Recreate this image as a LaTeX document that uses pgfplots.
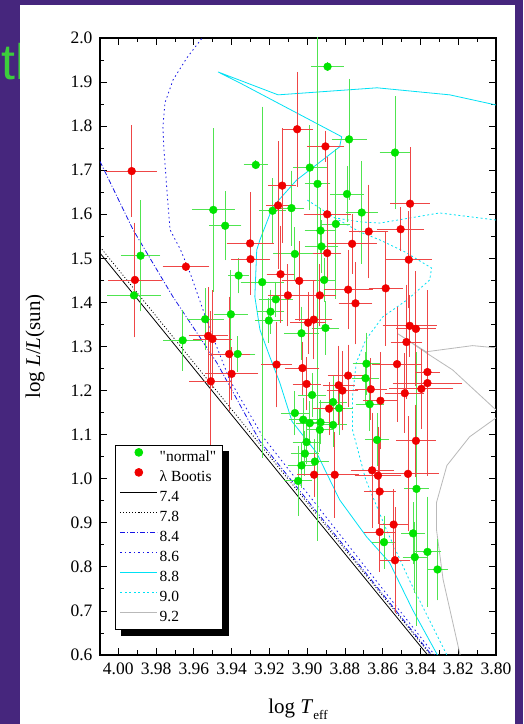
\documentclass[border=0pt]{standalone}
\usepackage{fontspec}
\setmainfont{Liberation Serif}
\newfontfamily\slidefont{Liberation Sans}
\usepackage{pgfplots}
\usepackage{pgfplotstable}
\pgfplotsset{compat=1.18}

\definecolor{slidebg}{RGB}{70,38,125}
\definecolor{slidetext}{RGB}{60,205,60}
\definecolor{ptgreen}{RGB}{0,228,0}
\definecolor{ptred}{RGB}{240,0,0}
\definecolor{ebgreen}{RGB}{80,228,80}
\definecolor{ebred}{RGB}{238,70,70}
\definecolor{isocyan}{RGB}{0,225,245}
\definecolor{isoblue}{RGB}{20,20,230}
\definecolor{isogray}{RGB}{185,185,185}

\pgfplotstableread{
x y xe ye
3.8892 1.935 0.0063 0
3.8778 1.770 0.0069 0.127
3.8535 1.740 0.0058 0.118
3.9272 1.712 0.0040 0
3.8986 1.706 0.0066 0.086
3.8945 1.669 0.0044 0.80
3.9497 1.610 0.0090 0.175
3.9434 1.574 0.0062 0.068
3.9183 1.608 0.0048 0.064
3.9083 1.614 0.0044 0.075
3.8789 1.646 0.0064 0.053
3.8711 1.604 0.0062 0.106
3.8848 1.578 0.0053 0.160
3.8929 1.563 0.0060 0.040
3.9882 1.506 0.0080 0.116
3.9917 1.416 0.0117 0
3.9363 1.461 0.0030 0.030
3.9238 1.446 0.0090 0.388
3.9404 1.373 0.0066 0.090
3.9540 1.362 0.0075 0.060
3.9659 1.314 0.0078 0.059
3.9368 1.283 0.0070 0.030
3.9065 1.510 0.0090 0.050
3.9166 1.407 0.0066 0.030
3.9194 1.379 0.0050 0.040
3.9203 1.359 0.0050 0.040
3.8924 1.527 0.0066 0.050
3.8910 1.451 0.0035 0.040
3.8903 1.342 0.0050 0.050
3.9030 1.330 0.0070 0.050
3.8974 1.190 0.0050 0.040
3.8863 1.174 0.0050 0.050
3.8831 1.160 0.0050 0.050
3.8686 1.261 0.0050 0.060
3.8691 1.228 0.0050 0.050
3.8669 1.169 0.0050 0.050
3.9065 1.149 0.0050 0.040
3.9021 1.134 0.0050 0.040
3.8986 1.126 0.0050 0.040
3.8929 1.128 0.0050 0.040
3.8863 1.122 0.0050 0.040
3.8933 1.111 0.0050 0.040
3.9003 1.083 0.0050 0.040
3.9012 1.057 0.0050 0.040
3.8959 1.039 0.0050 0.040
3.9030 1.030 0.0050 0.040
3.9048 0.995 0.0050 0.069
3.8630 1.088 0.0040 0.050
3.8421 0.977 0.0040 0.300
3.8439 0.876 0.0040 0.060
3.8593 0.856 0.0040 0.050
3.8363 0.834 0.0050 0.115
3.8430 0.822 0.0040 0.070
3.8310 0.794 0.0030 0.060
}\greendata

\pgfplotstableread{
x y xe ye
3.9929 1.698 0.0110 0.094
3.9912 1.451 0.0120 0.120
3.9642 1.481 0.0100 0
3.9524 1.324 0.0080 0.100
3.9501 1.317 0.0080 0.100
3.9413 1.283 0.0087 0.120
3.9400 1.238 0.0117 0.050
3.9510 1.221 0.0090 0.150
3.9053 1.793 0.0058 0.120
3.8903 1.754 0.0075 0.025
3.9132 1.665 0.0050 0.120
3.9154 1.620 0.0040 0.135
3.8894 1.600 0.0101 0.120
3.9302 1.534 0.0100 0.106
3.9300 1.498 0.0080 0.066
3.9141 1.464 0.0050 0.100
3.9042 1.449 0.0066 0.080
3.9102 1.416 0.0080 0.060
3.8933 1.416 0.0062 0.060
3.8894 1.512 0.0050 0.050
3.8762 1.533 0.0106 0.058
3.8674 1.561 0.0080 0.096
3.8783 1.429 0.0106 0.080
3.8744 1.398 0.0066 0.083
3.8584 1.432 0.0066 0.120
3.8995 1.354 0.0070 0.060
3.8965 1.361 0.0075 0.080
3.9025 1.251 0.0066 0.050
3.9003 1.215 0.0050 0.050
3.8783 1.234 0.0084 0.060
3.8833 1.212 0.0060 0.080
3.8813 1.200 0.0060 0.080
3.8884 1.159 0.0060 0.050
3.9162 1.259 0.0058 0.087
3.8663 1.203 0.0060 0.060
3.8612 1.177 0.0070 0.100
3.8963 1.009 0.0066 0.040
3.8854 1.009 0.0106 0.087
3.8656 1.019 0.0090 0.120
3.8625 1.007 0.0100 0.100
3.8616 0.971 0.0060 0.100
3.8616 0.879 0.0060 0.080
3.8542 0.896 0.0050 0.070
3.8535 0.815 0.0058 0.110
3.8424 1.086 0.0080 0.072
3.8466 1.011 0.0140 0.120
3.8455 1.624 0.0080 0.118
3.8505 1.566 0.0100 0.040
3.8462 1.497 0.0097 0.100
3.8457 1.347 0.0120 0.060
3.8424 1.340 0.0080 0.120
3.8474 1.310 0.0060 0.120
3.8524 1.260 0.0110 0.120
3.8363 1.242 0.0040 0.030
3.8363 1.217 0.0160 0.200
3.8395 1.204 0.0146 0.080
3.8483 1.194 0.0080 0.080
}\reddata

\begin{document}
\begin{tikzpicture}[x=1pt,y=1pt]
\useasboundingbox (0,0) rectangle (523,724);
\fill[slidebg] (0,0) rectangle (523,724);
\node[anchor=base west, inner sep=0pt, text=slidetext, font=\slidefont\fontsize{50}{50}\selectfont] at (1,644) {th};
\fill[white] (20,0) rectangle (515,719);
\begin{axis}[
  at={(100pt,69pt)}, anchor=south west,
  width=396pt, height=617pt, scale only axis,
  x dir=reverse,
  xmin=3.80, xmax=4.0097, ymin=0.6, ymax=2.0,
  xtick={3.80,3.82,3.84,3.86,3.88,3.90,3.92,3.94,3.96,3.98,4.00},
  ytick={0.6,0.7,0.8,0.9,1.0,1.1,1.2,1.3,1.4,1.5,1.6,1.7,1.8,1.9,2.0},
  minor x tick num=1, minor y tick num=1,
  tick align=inside, tick pos=both,
  major tick length=7pt, minor tick length=4.5pt,
  every tick/.style={black, line width=0.8pt},
  axis line style={black, line width=1.2pt},
  /pgf/number format/assume math mode=true,
  tick label style={font=\fontsize{17.5}{20}\selectfont},
  xticklabel style={/pgf/number format/.cd, fixed, fixed zerofill, precision=2, /tikz/.cd, yshift=-4pt},
  yticklabel style={/pgf/number format/.cd, fixed, fixed zerofill, precision=1, /tikz/.cd, xshift=-4pt},
  xlabel={log \textit{T}\raisebox{-0.28em}{\fontsize{13}{13}\selectfont eff}},
  ylabel={log \textit{L}/\textit{L}(sun)},
  label style={font=\fontsize{21}{24}\selectfont},
  xlabel style={at={(axis description cs:0.5,-0.095)}, anchor=base},
  ylabel style={at={(axis description cs:-0.164,0.5)}, anchor=center},
  legend style={name=lgd, at={(axis description cs:0.0379,0.3404)}, anchor=north west,
    draw=black, line width=0.8pt, fill=white, inner xsep=4.5pt, inner ysep=2pt,
    font=\fontsize{15.5}{18}\selectfont,
    nodes={inner xsep=2pt, inner ysep=2pt, text height=12pt, text depth=4pt}},
  legend cell align=left,
  legend image code/.code={\path[draw=none, fill=none] (0pt,0pt) -- (37pt,10pt); \draw[mark repeat=2,mark phase=2,#1] plot coordinates {(0pt,5pt) (18.5pt,5pt) (37pt,5pt)};},
]
\addlegendimage{only marks, mark=*, mark size=3.9pt, mark options={draw=ptgreen, fill=ptgreen}}
\addlegendentry{\textquotedbl normal\textquotedbl}
\addlegendimage{only marks, mark=*, mark size=3.9pt, mark options={draw=ptred, fill=ptred}}
\addlegendentry{λ Bootis}

% isochrones
\addplot[black, line width=0.8pt, mark=none] coordinates {(4.0097,1.512) (3.9039,0.955) (3.8362,0.600)};
\addlegendentry{7.4}
\addplot[black, line width=0.8pt, mark=none, dash pattern=on 1pt off 2pt] coordinates {(4.0097,1.526) (3.8346,0.600)};
\addlegendentry{7.8}
\addplot[isoblue, line width=0.8pt, mark=none, dash pattern=on 5pt off 2pt on 1pt off 2pt] coordinates {(4.0097,1.720) (3.9922,1.565) (3.9711,1.413) (3.9478,1.263) (3.9250,1.085) (3.8800,0.845) (3.8341,0.600)};
\addlegendentry{8.4}
\addplot[isoblue, line width=0.8pt, mark=none, dash pattern=on 1.5pt off 3pt] coordinates {(3.9530,2.015) (3.9556,2.000) (3.9637,1.955) (3.9710,1.905) (3.9753,1.853) (3.9764,1.798) (3.9758,1.746) (3.9740,1.639) (3.9726,1.565) (3.9670,1.519) (3.9620,1.467) (3.9514,1.338) (3.9410,1.224) (3.9234,1.095) (3.8325,0.600)};
\addlegendentry{8.6}
\addplot[isocyan, line width=0.8pt, mark=none] coordinates {(3.8000,1.848) (3.8245,1.871) (3.8630,1.887) (3.9154,1.871) (3.9472,1.923) (3.9356,1.898) (3.8817,1.776) (3.8828,1.753) (3.9055,1.678) (3.9182,1.617) (3.9250,1.542) (3.9267,1.519) (3.9277,1.413) (3.9250,1.338) (3.9198,1.277) (3.9145,1.218) (3.9080,1.130) (3.8950,1.059) (3.8828,0.952) (3.8685,0.868) (3.8564,0.810) (3.8442,0.703) (3.8310,0.600)};
\addlegendentry{8.8}
\addplot[isocyan, line width=0.8pt, mark=none, dash pattern=on 2pt off 2.5pt] coordinates {(3.8000,1.587) (3.8299,1.603) (3.8616,1.580) (3.8721,1.583) (3.8854,1.592) (3.9002,1.633)};
\addlegendentry{9.0}
\addplot[isogray, line width=0.8pt, mark=none] coordinates {(3.8000,1.297) (3.8124,1.302) (3.8370,1.288) (3.8520,1.329) (3.8360,1.283) (3.8230,1.247) (3.8000,1.156) (3.7970,1.147) (3.8000,1.138) (3.8140,1.095) (3.8260,1.030) (3.8315,0.946) (3.8315,0.884) (3.8280,0.771) (3.8190,0.600)};
\addlegendentry{9.2}
\addplot[isocyan, line width=0.8pt, mark=none, dash pattern=on 2pt off 2.5pt, forget plot] coordinates {(3.8854,1.592) (3.8721,1.560) (3.8616,1.542) (3.8484,1.515) (3.8341,1.478) (3.8351,1.451) (3.8470,1.406) (3.8600,1.367) (3.8690,1.315) (3.8740,1.263) (3.8760,1.186) (3.8760,1.111) (3.8690,0.998) (3.8580,0.884) (3.8460,0.771) (3.8260,0.600)};

% data
\addplot[only marks, mark=*, mark size=3.9pt, mark options={draw=ptgreen, fill=ptgreen}, forget plot,
  error bars/.cd, x dir=both, x explicit, y dir=both, y explicit,
  error bar style={ebgreen, line width=0.9pt},
  error mark options={ebgreen, line width=0.9pt, mark size=4.5pt}]
  table[x=x, y=y, x error=xe, y error=ye] {\greendata};
\addplot[only marks, mark=*, mark size=3.9pt, mark options={draw=ptred, fill=ptred}, forget plot,
  error bars/.cd, x dir=both, x explicit, y dir=both, y explicit,
  error bar style={ebred, line width=0.9pt},
  error mark options={ebred, line width=0.9pt, mark size=4.5pt}]
  table[x=x, y=y, x error=xe, y error=ye] {\reddata};
\end{axis}
% legend drop shadow (right and bottom strips)
\fill[black] ([shift={(0pt,-6pt)}]lgd.north east) rectangle ([shift={(6pt,-6pt)}]lgd.south east);
\fill[black] ([shift={(6pt,-6pt)}]lgd.south west) rectangle (lgd.south east);
\end{tikzpicture}
\end{document}
